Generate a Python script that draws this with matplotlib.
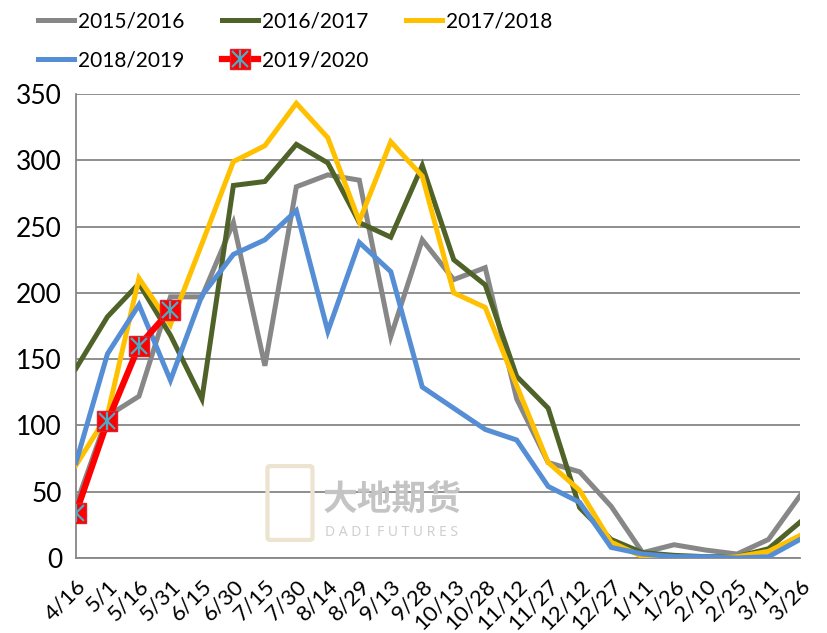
import matplotlib
matplotlib.use("Agg")
import matplotlib.pyplot as plt
from matplotlib.legend_handler import HandlerTuple
from matplotlib.patches import FancyBboxPatch
import numpy as np

categories = ["4/16", "5/1", "5/16", "5/31", "6/15", "6/30", "7/15", "7/30", "8/14", "8/29",
              "9/13", "9/28", "10/13", "10/28", "11/12", "11/27", "12/12", "12/27", "1/11",
              "1/26", "2/10", "2/25", "3/11", "3/26"]

s2015 = [40, 107, 122, 197, 197, 253, 145, 280, 289, 285, 167, 240, 210, 219, 120, 72, 65, 39, 4, 10, 6, 3, 14, 47]
s2016 = [143, 182, 207, 168, 120, 281, 284, 312, 298, 253, 242, 296, 225, 206, 137, 113, 38, 14, 4, 2, 1, 1, 7, 27]
s2017 = [70, 108, 211, 176, 237, 299, 311, 343, 317, 254, 314, 288, 200, 189, 130, 72, 51, 12, 1, 0, 0, 1, 5, 17]
s2018 = [72, 154, 191, 134, 198, 229, 240, 262, 171, 238, 216, 129, 113, 97, 89, 54, 42, 8, 3, 1, 1, 0, 1, 14]
s2019 = [34, 103, 160, 187]

labels = ["2015/2016", "2016/2017", "2017/2018", "2018/2019", "2019/2020"]
colors = ["#878787", "#4F6228", "#FFC000", "#558ED5", "#FF0000"]

plt.rcParams['font.family'] = ['Lato', 'DejaVu Sans']

fig = plt.figure(figsize=(8.28, 6.33), dpi=100)
ax = fig.add_axes([76/828, 1-558/633, (800-76)/828, (558-94)/633])

x = np.arange(len(categories))
series = [s2015, s2016, s2017, s2018]
handles = []
for s, c in zip(series, colors[:4]):
    h, = ax.plot(x[:len(s)], s, color=c, lw=3.6, solid_joinstyle='miter', zorder=3)
    handles.append(h)

xr = x[:len(s2019)]
hr, = ax.plot(xr, s2019, color=colors[4], lw=4.5, marker='s', markersize=15,
              markerfacecolor='#FF0000', markeredgecolor='#E0202A', zorder=4)
hx, = ax.plot(xr, s2019, ls='none', marker='x', markersize=12, mew=1.6,
              color='#4BACC6', zorder=5)
hv, = ax.plot(xr, s2019, ls='none', marker='|', markersize=13, mew=1.6,
              color='#4BACC6', zorder=5)
handles.append((hr, hx, hv))

ax.set_xlim(0, len(categories) - 1)
ax.set_ylim(0, 350)
ax.set_yticks(np.arange(0, 351, 50))
ax.set_xticks(x)
ax.set_xticklabels(categories, rotation=45, ha='right', rotation_mode='anchor', fontsize=16)
ax.tick_params(axis='y', labelsize=19, length=0, pad=10)
ax.tick_params(axis='x', length=0, pad=13)
ax.grid(axis='y', color='#868686', lw=1.3, zorder=1)
ax.set_axisbelow(True)
for sp in ['top', 'right']:
    ax.spines[sp].set_visible(False)
for sp in ['left', 'bottom']:
    ax.spines[sp].set_color('#868686')
    ax.spines[sp].set_linewidth(1.3)

# watermark
logo = FancyBboxPatch((270/828, 1-538/633), 40/828, 70/633, boxstyle="round,pad=0.003",
                      transform=fig.transFigure, facecolor='none', edgecolor='#ECE4D0',
                      lw=3, zorder=0)
fig.patches.append(logo)
fig.text(323/828, 1-510/633, "大地期货", fontsize=25, color='#C4C4C4',
         family=['Noto Sans CJK SC'], fontweight='bold', zorder=0)
fig.text(325/828, 1-536/633, "D A D I  F U T U R E S", fontsize=10, color='#CFCFCF',
         family=['Noto Sans'], fontweight='bold', zorder=0)

# legend in three columns, filled row by row
legfont = {'family': ['Lato', 'DejaVu Sans'], 'size': 15}
cols = [([0, 3], 38), ([1, 4], 222), ([2], 406)]
for idx, xpx in cols:
    leg = fig.legend([handles[i] for i in idx], [labels[i] for i in idx],
                     loc='upper left', bbox_to_anchor=(xpx/828, 1 - 11/633), frameon=False,
                     prop=legfont, handlelength=1.75, handletextpad=0.15, labelspacing=0.95,
                     borderpad=0, borderaxespad=0,
                     handler_map={tuple: HandlerTuple(ndivide=1, pad=0)})

fig.savefig("out.png", dpi=100)
